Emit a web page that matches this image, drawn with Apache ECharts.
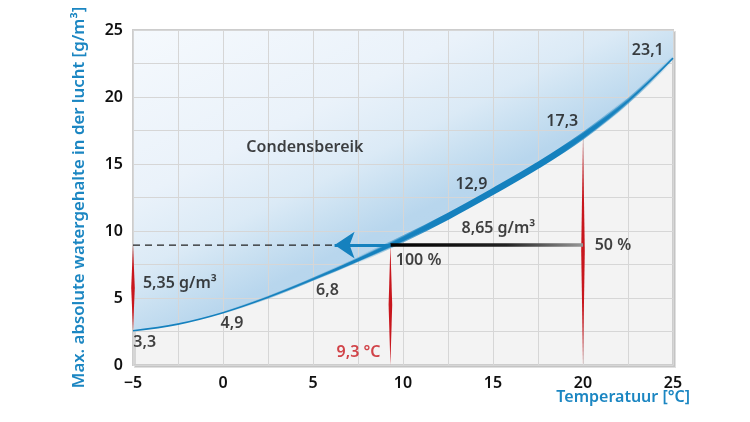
<!DOCTYPE html>
<html>
<head>
<meta charset="utf-8">
<script src="https://cdn.jsdelivr.net/npm/echarts@6/dist/echarts.min.js"></script>
<style>
html, body { margin: 0; padding: 0; background: #fff; }
#chart { width: 750px; height: 422px; }
</style>
</head>
<body>
<div id="chart"></div>
<script>
var temps = [-5, -2.5, 0, 2.5, 5, 7.5, 10, 12.5, 15, 17.5, 20, 22.5, 25];
var maxWater = [2.55, 3.05, 3.9, 5.05, 6.4, 7.85, 9.4, 11.1, 12.95, 14.9, 17.1, 19.7, 22.9];

// dauwpunt-voorbeeld
var dewTemp = 9.3;
var dewWater = 8.95;
var roomTemp = 20;
var arrowTip = 6.2;

// rode markeringen: [temperatuur, van, tot]
var redMarks = [[-5, 2.55, 8.95], [9.3, 0, 8.95], [20, 0, 17.0]];

// teksten in het diagram: [x, y, tekst]
var notes = [
    [4.55, 16.2, 'Condensbereik'],
    [23.6, 23.5, '23,1'],
    [18.85, 18.2, '17,3'],
    [13.8, 13.5, '12,9'],
    [15.3, 10.2, '8,65 g/m³'],
    [5.8, 5.6, '6,8'],
    [0.5, 3.1, '4,9']
];
var notesLeft = [
    [20.65, 8.9, '50 %'],
    [9.6, 7.8, '100 %'],
    [-4.98, 1.65, '3,3'],
    [-4.45, 6.1, '5,35 g/m³']
];
var redNote = [8.75, 0.95, '9,3 °C'];

var blue = '#1581be';
var font = 'Noto Sans';

var curveData = temps.map(function (t, i) { return [t, maxWater[i]]; });

function noteItems(list, align) {
    return list.map(function (n) {
        return { value: [n[0], n[1]], name: n[2], label: { align: align } };
    });
}

// dikker deel van de curve, uitlopend aan de uiteinden
function thickLayer(from, to, width) {
    return {
        type: 'line',
        z: 4,
        data: curveData.slice(from, to + 1),
        smooth: 0.4,
        symbol: 'none',
        lineStyle: {
            width: width,
            cap: 'butt',
            color: new echarts.graphic.LinearGradient(0, 0, 1, 0, [
                { offset: 0, color: 'rgba(21,129,190,0)' },
                { offset: 0.3, color: 'rgba(21,129,190,1)' },
                { offset: 0.75, color: 'rgba(21,129,190,1)' },
                { offset: 1, color: 'rgba(21,129,190,0)' }
            ])
        }
    };
}

var dom = echarts.init(document.getElementById('chart'));

var option = {
    animation: false,
    backgroundColor: '#fff',
    grid: {
        left: 133,
        right: 77,
        top: 30,
        bottom: 57,
        show: true,
        z: -2,
        backgroundColor: '#f3f3f3',
        borderColor: '#cdcdcd',
        borderWidth: 2,
        shadowColor: 'rgba(0,0,0,0.12)',
        shadowOffsetX: 2,
        shadowOffsetY: 2
    },
    xAxis: {
        type: 'value',
        min: -5,
        max: 25,
        interval: 2.5,
        axisLine: { show: false },
        axisTick: { show: false },
        splitLine: { lineStyle: { color: '#d6d6d6', width: 1 } },
        axisLabel: {
            margin: 10,
            color: '#111',
            fontSize: 16,
            fontWeight: 600,
            fontFamily: font,
            formatter: function (v) {
                return Math.abs(v % 5) < 1e-6 ? String(v).replace('-', '\u2212') : '';
            }
        }
    },
    yAxis: {
        type: 'value',
        min: 0,
        max: 25,
        interval: 2.5,
        name: 'Max. absolute watergehalte in der lucht [g/m³]',
        nameLocation: 'middle',
        nameGap: 45,
        nameTextStyle: { color: '#1b86c2', fontSize: 16.8, fontWeight: 600, fontFamily: font },
        axisLine: { show: false },
        axisTick: { show: false },
        splitLine: { lineStyle: { color: '#d6d6d6', width: 1 } },
        axisLabel: {
            margin: 10,
            color: '#111',
            fontSize: 16,
            fontWeight: 600,
            fontFamily: font,
            formatter: function (v) {
                return Math.abs(v % 5) < 1e-6 ? String(v) : '';
            }
        }
    },
    graphic: [{
        type: 'text',
        right: 60,
        top: 389,
        style: {
            text: 'Temperatuur [°C]',
            fill: '#1b86c2',
            font: '600 16px "Noto Sans"'
        }
    }],
    series: [
        // blauw condensgebied boven de curve
        {
            type: 'line',
            z: -1,
            data: curveData,
            smooth: 0.4,
            symbol: 'none',
            lineStyle: { width: 0 },
            areaStyle: {
                origin: 'end',
                opacity: 1,
                color: new echarts.graphic.LinearGradient(0, 0, 0.5, 1.8, [
                    { offset: 0, color: '#f5f9fd' },
                    { offset: 0.25, color: '#eaf2fa' },
                    { offset: 0.36, color: '#dbeaf6' },
                    { offset: 0.42, color: '#c9e0f1' },
                    { offset: 0.48, color: '#b8d6ed' },
                    { offset: 1, color: '#b2d2eb' }
                ])
            }
        },
        // rode markeringen
        {
            type: 'custom',
            z: 3,
            data: redMarks,
            encode: { x: 0, y: [1, 2] },
            renderItem: function (params, api) {
                var a = api.coord([api.value(0), api.value(1)]);
                var b = api.coord([api.value(0), api.value(2)]);
                var my = (a[1] + b[1]) / 2;
                return {
                    type: 'polygon',
                    shape: { points: [a, [a[0] + 1.8, my], b, [a[0] - 1.8, my]] },
                    style: { fill: '#c8161d' }
                };
            }
        },
        // curve
        {
            type: 'line',
            z: 4,
            data: curveData,
            smooth: 0.4,
            symbol: 'none',
            lineStyle: { color: blue, width: 1.6 }
        },
        thickLayer(2, 12, 3),
        thickLayer(4, 12, 4.5),
        thickLayer(5, 11, 6.5),
        // zwarte lijn van 20 °C naar dauwpunt
        {
            type: 'line',
            z: 5,
            data: [[dewTemp, dewWater], [roomTemp, dewWater]],
            symbol: 'none',
            lineStyle: {
                width: 3.5,
                color: new echarts.graphic.LinearGradient(0, 0, 1, 0, [
                    { offset: 0, color: '#000' },
                    { offset: 0.6, color: '#222' },
                    { offset: 1, color: '#9a9a9a' }
                ])
            }
        },
        // stippellijn
        {
            type: 'line',
            z: 5,
            data: [[-5, dewWater], [arrowTip, dewWater]],
            symbol: 'none',
            lineStyle: { width: 1.2, color: '#222', type: [7, 5] }
        },
        // blauwe pijl
        {
            type: 'lines',
            coordinateSystem: 'cartesian2d',
            z: 6,
            symbol: ['none', 'arrow'],
            symbolSize: [13, 20],
            lineStyle: { color: blue, width: 3, opacity: 1, curveness: 0 },
            data: [{ coords: [[dewTemp, dewWater], [arrowTip, dewWater]] }]
        },
        // teksten
        {
            type: 'scatter',
            z: 7,
            symbolSize: 0,
            silent: true,
            data: noteItems(notes, 'center').concat(noteItems(notesLeft, 'left')).concat([{
                value: [redNote[0], redNote[1]],
                name: redNote[2],
                label: { align: 'right', color: '#c8161d' }
            }]),
            label: {
                show: true,
                position: 'inside',
                formatter: '{b}',
                color: '#111',
                fontSize: 16,
                fontWeight: 600,
                fontFamily: font
            }
        }
    ]
};

dom.setOption(option);
</script>
</body>
</html>
